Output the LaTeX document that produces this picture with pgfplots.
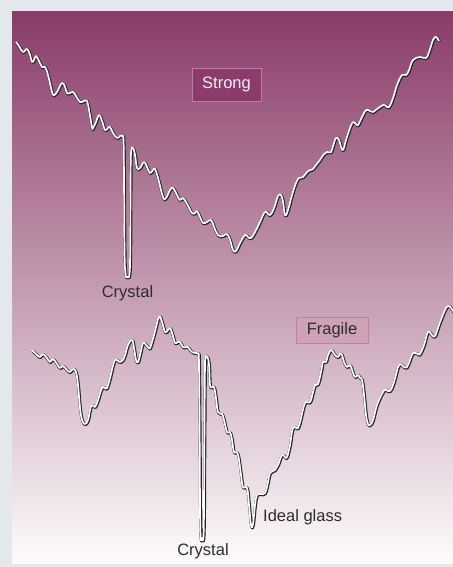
\documentclass[border=0pt]{standalone}
\usepackage{pgfplots}
\pgfplotsset{compat=1.18}
\usepackage{fontspec}
\setmainfont{Liberation Sans}

\definecolor{outergray}{RGB}{227,232,236}
\definecolor{paneltop}{RGB}{138,60,104}
\definecolor{panelmid}{RGB}{186,141,161}
\definecolor{panelbot}{RGB}{253,251,252}
\definecolor{strongbox}{RGB}{140,60,106}
\definecolor{strongedge}{RGB}{184,126,158}
\definecolor{fragbox}{RGB}{206,162,183}
\definecolor{fragedge}{RGB}{188,132,158}
\definecolor{labeltext}{RGB}{45,45,45}

% energy landscape, pixel coordinates (y grows downwards)
\pgfplotstableread{
x y
16 42
19 46
23 52
27 49
30 55
32 62
34 60
36 56
39 61
42 67
45 67
48 75
52 92
54 95
57 92
62 83
65 87
67 93
70 93
73 92
76 96
80 102
84 101
87 101
89 110
92 127
93 128
96 122
99 115
102 121
105 130
108 128
110 127
113 133
117 138
120 136
122 136
123.5 141
124 180
124.5 250
125.5 274
127.5 277
129.5 274
130.2 250
130.5 190
131 153
133 148
135 155
137 168
140 168
144 162
147 167
150 173
153 170
155 169
158 178
163 197
166 198
170 190
173 188
177 195
180 200
183 198
187 204
192 213
195 213
197 211
200 217
203 223
207 222
211 220
214 227
218 235
223 236
227 234
230 240
233 250
236 251
240 243
245 235
248 237
251 238
255 232
260 222
265 212
270 215
274 208
278 196
281 195
283 202
285 215
288 210
292 195
296 183
299 178
303 177
308 171
313 169
316 165
320 160
324 154
327 152
331 152
333 146
336 138
339 140
341 147
343 150
346 140
350 128
353 122
356 124
358 125
362 117
366 110
370 111
373 112
377 109
383 105
386 106
389 107
393 98
397 85
402 75
406 75
409 70
413 60
420 57
426 58
429 52
433 40
436 37
439 41
}\strongdata

\pgfplotstableread{
x y
32 350
36 354
40 357
43 354
47 358
50 362
53 359
57 364
60 368
63 366
67 370
70 372
73 369
76 372
78 385
80 408
82 420
85 424
88 420
90 410
92 405
95 407
98 400
102 388
105 388
107 388
110 378
114 362
117 360
120 362
124 358
128 345
132 340
134 348
136 360
138 362
140 355
143 343
146 345
148 347
150 348
154 335
159 317
162 322
165 332
168 330
170 328
173 336
175 343
178 342
180 342
183 347
186 347
188 347
190 350
192 352
195 353
198 354
199 365
199.7 450
200.3 530
202 538
203.7 530
204.3 450
205 365
206 358
207.5 357
209 365
210 385
212 387
214 387
216 398
218 412
222 414
224 420
227 432
230 432
232 440
234 452
237 452
239 460
241 475
243 487
247 488
249 505
251 525
253 524
255 505
257 495
261 494
265 493
268 482
270 473
275 470
278 465
282 455
285 457
287 457
290 445
293 428
298 428
301 418
305 403
310 402
313 392
315 385
318 384
321 372
323 362
326 362
328 355
331 350
333 352
335 355
338 357
340 354
342 355
344 362
347 367
350 365
352 370
355 377
358 375
360 378
362 380
364 395
366 415
368 424
370 425
373 420
377 405
383 392
386 390
390 391
394 382
399 365
404 367
407 367
410 360
413 353
418 354
420 354
424 345
428 332
432 335
435 336
440 322
445 310
448 306
451 308
455 314
}\fragiledata

\begin{document}
\begin{tikzpicture}
\begin{axis}[
  width=453bp, height=567bp,
  scale only axis,
  xmin=0, xmax=453,
  ymin=0, ymax=567,
  y dir=reverse,
  hide axis,
  clip=true,
]
% backgrounds
\fill[outergray] (axis cs:0,0) rectangle (axis cs:453,567);
\shade[top color=paneltop, middle color=panelmid, bottom color=panelbot]
  (axis cs:12,12) rectangle (axis cs:453,563);

% strong landscape
\addplot[black!85, line width=3bp, smooth, tension=0.7, line join=round, xshift=0.5bp, yshift=-0.6bp] table {\strongdata};
\addplot[white, line width=1.7bp, smooth, tension=0.7, line join=round] table {\strongdata};

% fragile landscape
\addplot[black!85, line width=3bp, smooth, tension=0.7, line join=round, xshift=0.5bp, yshift=-0.6bp] table {\fragiledata};
\addplot[white, line width=1.7bp, smooth, tension=0.7, line join=round] table {\fragiledata};

% labels
\node[fill=strongbox, draw=strongedge, line width=0.8bp, minimum width=69bp, minimum height=33bp,
  text=white!92!strongbox, font=\fontsize{16.5bp}{19bp}\selectfont, inner sep=0pt]
  at (axis cs:226.5,84.5) {Strong};
\node[fill=fragbox, draw=fragedge, line width=0.8bp, minimum width=72bp, minimum height=26bp,
  text=labeltext, font=\fontsize{16.5bp}{19bp}\selectfont, inner sep=0pt]
  at (axis cs:332,330) {Fragile};
\node[text=labeltext, font=\fontsize{16.5bp}{19bp}\selectfont, inner sep=0pt]
  at (axis cs:127.5,293) {Crystal};
\node[text=labeltext, font=\fontsize{16.5bp}{19bp}\selectfont, inner sep=0pt]
  at (axis cs:203,551) {Crystal};
\node[text=labeltext, font=\fontsize{16.5bp}{19bp}\selectfont, inner sep=0pt, anchor=west]
  at (axis cs:263,517) {Ideal glass};
\end{axis}
\end{tikzpicture}
\end{document}
